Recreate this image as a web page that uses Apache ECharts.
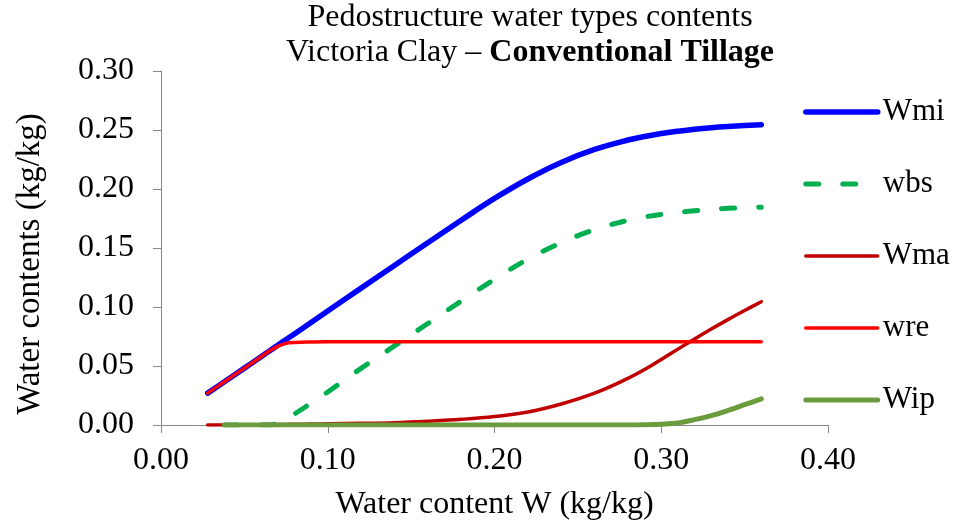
<!DOCTYPE html>
<html>
<head>
<meta charset="utf-8">
<script src="https://cdn.jsdelivr.net/npm/echarts@6/dist/echarts.min.js"></script>
<style>
  html, body { margin: 0; padding: 0; background: #fff; }
  #chart { width: 953px; height: 526px; }
</style>
</head>
<body>
<div id="chart"></div>
<script>
// Water content W (kg/kg) at which every curve is sampled
var W = [0.028, 0.038, 0.05, 0.06, 0.065, 0.07, 0.075, 0.08, 0.09, 0.10, 0.12, 0.14, 0.16, 0.18,
         0.20, 0.22, 0.24, 0.26, 0.28, 0.29, 0.30, 0.31, 0.32, 0.33, 0.34, 0.35, 0.36];

// Pedostructure water types (kg/kg)
var Wmi = [0.027, 0.0367, 0.0482, 0.0579, 0.0627, 0.0676, 0.0724, 0.0772, 0.0869, 0.0966, 0.116, 0.1352, 0.1545, 0.1735,
           0.192, 0.2085, 0.2225, 0.2335, 0.2415, 0.2445, 0.2470, 0.2490, 0.2507, 0.2520, 0.2530, 0.2538, 0.2545];
var wbs = [null, 0, 0, 0, 0, 0.0015, 0.005, 0.0093, 0.0185, 0.028, 0.048, 0.067, 0.086, 0.105,
           0.1235, 0.1405, 0.1545, 0.1655, 0.1735, 0.1763, 0.1785, 0.1802, 0.1815, 0.1827, 0.1836, 0.1842, 0.1846];
var Wma = [0, 0.0001, 0.0002, 0.0003, 0.0004, 0.0005, 0.0005, 0.0006, 0.0008, 0.001, 0.0014, 0.002, 0.0032, 0.0048,
           0.0072, 0.011, 0.0178, 0.027, 0.0395, 0.047, 0.0556, 0.0643, 0.0729, 0.0813, 0.0893, 0.0970, 0.1045];
var wre = [0.027, 0.0367, 0.0482, 0.0578, 0.0627, 0.0667, 0.0692, 0.0700, 0.0704, 0.0705, 0.0705, 0.0705, 0.0705, 0.0705,
           0.0705, 0.0705, 0.0705, 0.0705, 0.0705, 0.0705, 0.0705, 0.0705, 0.0705, 0.0705, 0.0705, 0.0705, 0.0705];
var Wip = [null, 0, 0, 0, 0, 0, 0, 0, 0, 0, 0, 0, 0, 0,
           0, 0, 0, 0, 0, 0.0002, 0.0007, 0.0018, 0.0046, 0.0080, 0.0123, 0.0172, 0.0222];

var seriesNames = ['Wmi', 'wbs', 'Wma', 'wre', 'Wip'];
var seriesValues = [Wmi, wbs, Wma, wre, Wip];

var FONT = "'Liberation Serif', 'Times New Roman', serif";
var AXIS_GREY = '#868686';
var TEXT_SIZE = 32;

var styles = {
  Wmi: { color: '#0000FF', width: 5.5, type: 'solid' },
  wbs: { color: '#00B050', width: 5, type: [13, 24] },
  Wma: { color: '#C00000', width: 3.5, type: 'solid' },
  wre: { color: '#FF0000', width: 3.5, type: 'solid' },
  Wip: { color: '#6A9C3D', width: 5, type: 'solid' }
};

function pairs(values) {
  return W.map(function (w, i) { return [w, values[i]]; });
}

var series = seriesNames.map(function (name, i) {
  var s = styles[name];
  return {
    name: name,
    type: 'line',
    data: pairs(seriesValues[i]),
    symbol: 'none',
    smooth: 0.4,
    connectNulls: false,
    color: s.color,
    lineStyle: { color: s.color, width: s.width, type: s.type, cap: 'round', join: 'round' },
    emphasis: { disabled: true },
    animation: false
  };
});

// legend keys drawn as plain line samples with the series' own stroke
var legendData = seriesNames.map(function (name) {
  var s = styles[name];
  return {
    name: name,
    itemStyle: { opacity: 0 },
    lineStyle: { color: s.color, width: s.width, type: s.type, cap: 'round' }
  };
});

var chart = echarts.init(document.getElementById('chart'), null, { renderer: 'canvas' });
chart.setOption({
  backgroundColor: '#ffffff',
  animation: false,
  title: {
    text: '{n|Pedostructure water types contents}\n{n|Victoria Clay – }{b|Conventional Tillage}',
    left: 530,
    top: 0,
    textAlign: 'center',
    padding: 0,
    textStyle: {
      fontFamily: FONT,
      fontWeight: 'normal',
      fontSize: TEXT_SIZE,
      rich: {
        n: { fontFamily: FONT, fontSize: TEXT_SIZE, color: '#000', fontWeight: 'normal', lineHeight: 35 },
        b: { fontFamily: FONT, fontSize: TEXT_SIZE, color: '#000', fontWeight: 'bold', lineHeight: 35 }
      }
    }
  },
  legend: {
    orient: 'vertical',
    left: 803,
    top: 94,
    padding: 0,
    itemWidth: 72,
    itemHeight: 14,
    itemGap: 36,
    itemStyle: { opacity: 0 },
    data: legendData,
    textStyle: { fontFamily: FONT, fontSize: 31, color: '#000', lineHeight: 36 }
  },
  grid: { left: 161, top: 71, width: 667, height: 356, containLabel: false },
  xAxis: {
    type: 'value',
    min: 0,
    max: 0.4,
    interval: 0.1,
    name: 'Water content W (kg/kg)',
    nameLocation: 'middle',
    nameGap: 64,
    nameTextStyle: { fontFamily: FONT, fontSize: TEXT_SIZE, color: '#000' },
    axisLine: { show: true, lineStyle: { color: AXIS_GREY, width: 1 } },
    axisTick: { show: true, length: 8, lineStyle: { color: AXIS_GREY } },
    axisLabel: {
      fontFamily: FONT, fontSize: TEXT_SIZE, color: '#000', margin: 20,
      formatter: function (v) { return v.toFixed(2); }
    },
    splitLine: { show: false }
  },
  yAxis: {
    type: 'value',
    min: 0,
    max: 0.3,
    interval: 0.05,
    name: 'Water contents (kg/kg)',
    nameLocation: 'middle',
    nameGap: 114,
    nameTextStyle: { fontFamily: FONT, fontSize: 33, color: '#000', padding: [0, 32, 0, 0] },
    axisLine: { show: true, lineStyle: { color: AXIS_GREY, width: 1 } },
    axisTick: { show: true, length: 8, lineStyle: { color: AXIS_GREY } },
    axisLabel: {
      fontFamily: FONT, fontSize: TEXT_SIZE, color: '#000', margin: 27,
      formatter: function (v) { return v.toFixed(2); }
    },
    splitLine: { show: false }
  },
  series: series
});
</script>
</body>
</html>
